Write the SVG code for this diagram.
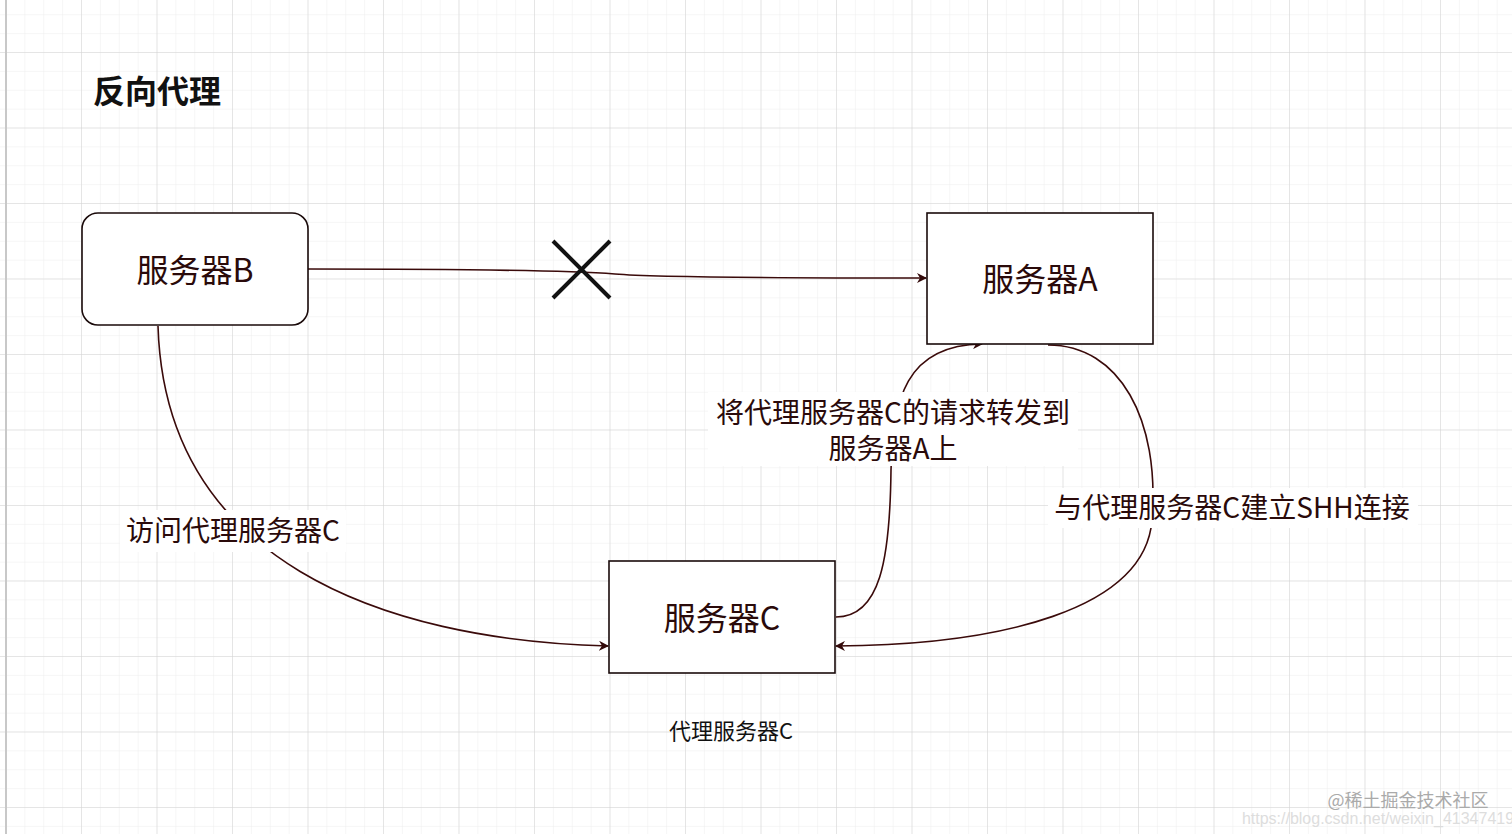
<svg xmlns="http://www.w3.org/2000/svg" width="1512" height="834" viewBox="0 0 1512 834">
<defs>
<pattern id="minor" x="5.5" y="-23.5" width="18.875" height="18.875" patternUnits="userSpaceOnUse"><path d="M0 0H18.875M0 0V18.875" fill="none" stroke="#ededed" stroke-width="1"/></pattern>
<pattern id="major" x="5.5" y="-23.5" width="75.5" height="75.5" patternUnits="userSpaceOnUse"><path d="M0 0H75.5M0 0V75.5" fill="none" stroke="#d4d4d4" stroke-width="1"/></pattern>
<marker id="arr" viewBox="0 0 10 10" refX="9" refY="5" markerWidth="10" markerHeight="10" markerUnits="userSpaceOnUse" orient="auto"><path d="M0 0L10 5L0 10L3 5Z" fill="#330a0a"/></marker>
</defs>
<style>
.node{fill:#fff;stroke:#1a0a0a;stroke-width:1.6}
.nt{font-family:"Noto Sans CJK SC","Noto Sans",sans-serif;font-size:32px;fill:#2a0a0a;text-anchor:middle}
.lbl{font-family:"Noto Sans CJK SC","Noto Sans",sans-serif;font-size:28px;fill:#2a0a0a;text-anchor:middle}
.edge{fill:none;stroke:#3a0a0a;stroke-width:1.6;marker-end:url(#arr)}
</style>
<rect width="1512" height="834" fill="#fff"/>
<rect width="1512" height="834" fill="url(#minor)"/>
<rect width="1512" height="834" fill="url(#major)"/>
<line x1="6" y1="0" x2="6" y2="834" stroke="#c8c8c8" stroke-width="2"/>
<text x="93" y="103" font-family="'Noto Sans CJK SC',sans-serif" font-size="32" font-weight="bold" fill="#111">反向代理</text>
<g id="edges">
<path class="edge" d="M308 269 C 450 269 560 270 615 274 C 650 277 800 278 926 278"/>
<path class="edge" d="M158 326 C 165 560 380 640 608 646"/>
<path class="edge" d="M836 617 C 880 617 890 560 891 470 C 893 400 905 345 982 344"/>
<path class="edge" d="M1048 345 C 1120 345 1160 420 1152 520 C 1145 610 1000 645 836 646"/>
</g>
<g id="cross" stroke="#111" stroke-width="4"><line x1="553" y1="241" x2="610" y2="298"/><line x1="610" y1="241" x2="553" y2="298"/></g>
<g id="labels">
<rect x="120" y="510" width="226" height="42" fill="#fff"/>
<text class="lbl" x="233" y="541">访问代理服务器C</text>
<rect x="708" y="392" width="370" height="74" fill="#fff"/>
<text class="lbl" x="893" y="423">将代理服务器C的请求转发到</text>
<text class="lbl" x="893" y="459">服务器A上</text>
<rect x="1048" y="488" width="370" height="40" fill="#fff"/>
<text class="lbl" x="1232" y="518">与代理服务器C建立SHH连接</text>
</g>
<g id="nodeB"><rect class="node" x="82" y="213" width="226" height="112" rx="16"/><text class="nt" x="195" y="282">服务器B</text></g>
<g id="nodeA"><rect class="node" x="927" y="213" width="226" height="131"/><text class="nt" x="1040" y="291">服务器A</text></g>
<g id="nodeC"><rect class="node" x="609" y="561" width="226" height="112"/><text class="nt" x="722" y="630">服务器C</text></g>
<text x="731" y="739" font-family="'Noto Sans CJK SC',sans-serif" font-size="22" fill="#111" text-anchor="middle">代理服务器C</text>
<text x="1408" y="807" font-family="'Noto Sans CJK SC',sans-serif" font-size="18" fill="#aaa" text-anchor="middle">@稀土掘金技术社区</text>
<text x="1378" y="824" font-family="'Liberation Sans',sans-serif" font-size="16" fill="#ddd" text-anchor="middle">https://blog.csdn.net/weixin_41347419</text>
</svg>
